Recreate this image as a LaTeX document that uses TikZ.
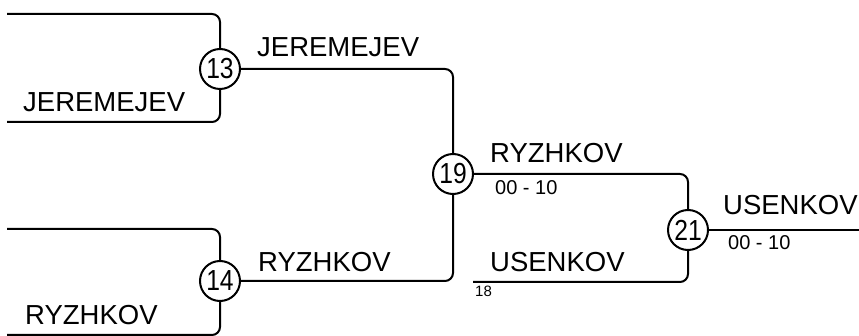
\documentclass[tikz,border=0pt]{standalone}
\usepackage{fontspec}
\usepackage{graphicx}
\setmainfont{Liberation Sans}
\newcommand{\cnum}[1]{\scalebox{0.85}[1]{#1}}
\tikzset{
  circ/.style={draw, circle, line width=2pt, minimum size=40pt, inner sep=0pt, font=\fontsize{29}{29}\selectfont},
  wire/.style={line width=2pt, rounded corners=8pt},
  plabel/.style={anchor=base west, inner sep=0pt, font=\fontsize{27.5}{27.5}\selectfont},
  scorelbl/.style={anchor=base west, inner sep=0pt, font=\fontsize{20}{20}\selectfont},
  smalllbl/.style={anchor=base west, inner sep=0pt, font=\fontsize{15}{15}\selectfont}
}
\begin{document}
\begin{tikzpicture}[x=1pt, y=-1pt]
\useasboundingbox (0,0) rectangle (859,336);
\node[circ] (n13) at (220,69) {\cnum{13}};
\node[circ] (n14) at (220,281) {\cnum{14}};
\node[circ] (n19) at (453,174) {\cnum{19}};
\node[circ] (n21) at (688,230) {\cnum{21}};
\coordinate (a1) at (7,14);
\coordinate (a2) at (7,122);
\coordinate (b1) at (7,229);
\coordinate (b2) at (7,335);
\coordinate (u18) at (473,282);
\coordinate (out) at (859,230);
\draw[wire] (a1) -| (n13.north);
\draw[wire] (a2) -| (n13.south);
\draw[wire] (b1) -| (n14.north);
\draw[wire] (b2) -| (n14.south);
\draw[wire] (n13.east) -| (n19.north);
\draw[wire] (n14.east) -| (n19.south);
\draw[wire] (n19.east) -| (n21.north);
\draw[wire] (u18) -| (n21.south);
\draw[wire] (n21.east) -- (out);
\node[plabel] (t1) at (23,112) {JEREMEJEV};
\node[plabel] (t2) at (25,325) {RYZHKOV};
\node[plabel] (t3) at (257,57) {JEREMEJEV};
\node[plabel] (t4) at (258,272) {RYZHKOV};
\node[plabel] (t5) at (490,163) {RYZHKOV};
\node[scorelbl] (s1) at (495,195) {00 - 10};
\node[plabel] (t6) at (490,272) {USENKOV};
\node[smalllbl] (s2) at (475,297) {18};
\node[plabel] (t7) at (723,215) {USENKOV};
\node[scorelbl] (s3) at (728,250) {00 - 10};
\end{tikzpicture}
\end{document}
